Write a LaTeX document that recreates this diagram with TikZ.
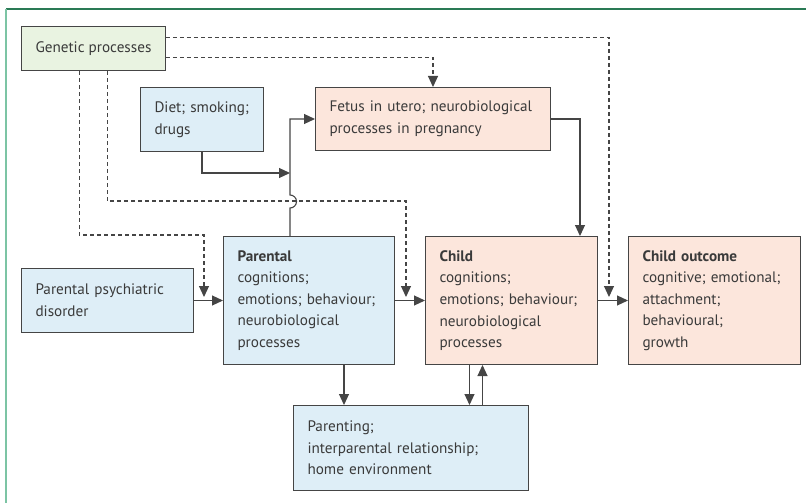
\documentclass[tikz,border=0pt]{standalone}
\usepackage{fontspec}
\setmainfont{PT Sans}
\usetikzlibrary{positioning, arrows.meta}

\definecolor{linegray}{HTML}{454545}
\definecolor{textgray}{HTML}{3A3A3A}
\definecolor{fillblue}{HTML}{DEEEF7}
\definecolor{fillpink}{HTML}{FCE6DC}
\definecolor{fillgreen}{HTML}{E9F3E1}
\definecolor{framedark}{HTML}{2A7A55}
\definecolor{framelight}{HTML}{7CC4A4}

\begin{document}
\begin{tikzpicture}[x=1pt,y=-1pt,>={Triangle[length=11pt,width=10pt]},font=\fontsize{15.2}{21.6}\selectfont]

	\tikzstyle{box}=[draw=linegray,line width=1pt,text=textgray,anchor=north west,align=left,inner xsep=14pt,inner ysep=0pt]
	\tikzstyle{bluebox}=[box,fill=fillblue]
	\tikzstyle{pinkbox}=[box,fill=fillpink]
	\tikzstyle{greenbox}=[box,fill=fillgreen]
	\tikzstyle{link}=[->,draw=linegray,line width=1.1pt]
	\tikzstyle{gene}=[->,draw=linegray,line width=1.1pt,dash pattern=on 4pt off 3pt]

	\useasboundingbox (0,0) rectangle (806,503);
	\draw[framedark,line width=1.3pt] (6,9) -- (806,9);
	\draw[framelight,line width=1.6pt] (6,9) -- (6,503);

	% boxes
	\node[greenbox,minimum width=142,minimum height=44] (genetic) at (21,26) {Genetic processes};
	\node[bluebox,minimum width=123,minimum height=64,text width=95] (diet) at (140,87) {Diet; smoking;\\drugs};
	\node[pinkbox,minimum width=235,minimum height=63,text width=207] (fetus) at (315,87) {Fetus in utero; neurobiological\\processes in pregnancy};
	\node[bluebox,minimum width=172,minimum height=64,text width=144] (ppd) at (21,268) {Parental psychiatric\\disorder};
	\node[bluebox,minimum width=171,minimum height=128,text width=143] (parental) at (223,236) {\textbf{Parental}\\cognitions;\\emotions; behaviour;\\neurobiological\\processes};
	\node[pinkbox,minimum width=172,minimum height=128,text width=144] (child) at (425,236) {\textbf{Child}\\cognitions;\\emotions; behaviour;\\neurobiological\\processes};
	\node[pinkbox,minimum width=172,minimum height=128,text width=144] (outcome) at (628,236) {\textbf{Child outcome}\\cognitive; emotional;\\attachment;\\behavioural;\\growth};
	\node[bluebox,minimum width=235,minimum height=85,text width=207] (parenting) at (293,405) {Parenting;\\interparental relationship;\\home environment};

	% free ends
	\coordinate (dj) at (290,173);
	\coordinate (gout) at (609,297);
	\coordinate (gpar) at (204,297);
	\coordinate (gchild) at (406,297);

	% solid links
	\draw[link] (ppd) -- (parental);
	\draw[link] (parental) -- (child);
	\draw[link] (child) -- (outcome);
	\draw[link] (fetus.east) -| ([xshift=-18pt]child.north east);
	\draw[link] (diet.south) |- (dj);
	\draw[link] ([xshift=67pt]parental.north west) -- ++(0,-28) arc[start angle=-90,end angle=90,radius=6.5pt] -- ([xshift=67pt]parental.north west |- fetus.west) -- (fetus.west);
	\draw[link] ([xshift=35pt]parental.south) -- ([xshift=35pt]parental.south |- parenting.north);
	\draw[link] ([xshift=-42pt]child.south) -- ([xshift=-42pt]child.south |- parenting.north);
	\draw[link] ([xshift=-29pt]child.south |- parenting.north) -- ([xshift=-29pt]child.south);

	% genetic paths
	\draw[gene] ([yshift=11pt]genetic.east) -| (gout);
	\draw[gene] ([yshift=-9pt]genetic.east) -| (fetus.north);
	\draw[gene] ([xshift=-14pt]genetic.south) |- (204,235) -- (gpar);
	\draw[gene] ([xshift=14pt]genetic.south) |- (406,201) -- (gchild);

\end{tikzpicture}
\end{document}
